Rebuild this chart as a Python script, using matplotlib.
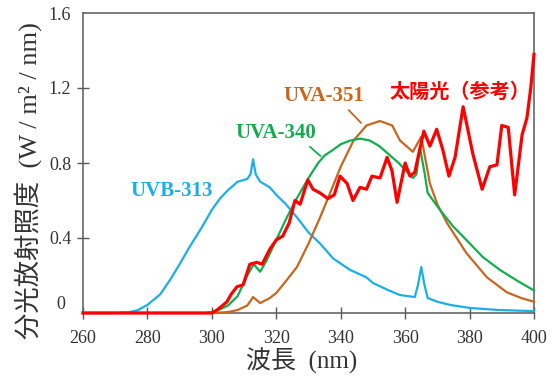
import matplotlib
matplotlib.use("Agg")
import matplotlib.pyplot as plt

FONTS = ["Liberation Serif", "Noto Sans CJK JP"]
plt.rcParams["font.family"] = FONTS

# ── spectra (wavelength nm, W/m2/nm) ─────────────────────────────────────────
uvb313_wl = [260, 270, 274, 277, 280, 284, 287, 290, 293, 297, 300, 302.5, 305,
             308, 311, 312, 312.8, 313.6, 315, 318, 320, 323, 326.4, 330, 333.6,
             337.7, 342.9, 348, 350, 355, 358.4, 363, 364, 365, 366, 367, 370,
             374, 380, 389, 400]
uvb313 = [0, 0, 0.003, 0.015, 0.043, 0.1, 0.176, 0.26, 0.35, 0.46, 0.55, 0.61,
          0.655, 0.70, 0.715, 0.74, 0.82, 0.74, 0.70, 0.67, 0.63, 0.58, 0.51,
          0.43, 0.37, 0.29, 0.23, 0.19, 0.16, 0.12, 0.096, 0.085, 0.15, 0.245,
          0.15, 0.08, 0.06, 0.043, 0.027, 0.016, 0.01]

uva340_wl = [260, 298, 300, 302, 305, 308, 311, 313, 315, 317, 320, 323, 326,
             330, 333, 335, 337.6, 340, 343, 346, 349, 352, 354, 358, 362.4,
             363.5, 364.6, 366, 367, 370.8, 375, 379, 384, 389.4, 395, 400]
uva340 = [0, 0, 0.005, 0.015, 0.04, 0.09, 0.2, 0.26, 0.22, 0.28, 0.39, 0.5,
          0.6, 0.72, 0.80, 0.84, 0.87, 0.90, 0.92, 0.93, 0.92, 0.89, 0.86, 0.80,
          0.72, 0.74, 0.88, 0.75, 0.64, 0.55, 0.46, 0.39, 0.30, 0.23, 0.17, 0.12]

uva351_wl = [260, 300, 305, 308, 311, 312.8, 315, 318, 320, 323, 326.4, 330,
             333.6, 336, 340, 344, 348, 352.2, 356, 358.4, 362.4, 365, 367.7,
             370, 373, 379, 385.4, 391.6, 396, 400]
uva351 = [0, 0, 0.005, 0.016, 0.04, 0.085, 0.053, 0.08, 0.107, 0.17, 0.245,
          0.37, 0.51, 0.61, 0.78, 0.92, 1.00, 1.024, 1.00, 0.92, 0.86, 0.94,
          0.69, 0.58, 0.48, 0.32, 0.19, 0.11, 0.08, 0.06]

sun_wl = [260, 300, 301.6, 303, 304.7, 306, 307.8, 309.7, 311.8, 314, 315.6,
          318, 320, 322, 324, 325.8, 327.4, 329.8, 331.4, 333.6, 336, 338,
          339.8, 342, 343.8, 346, 348, 349.7, 352.2, 354.4, 355.9, 357.5, 360,
          361.5, 363, 364, 365.8, 367.7, 369.8, 371.7, 373.6, 375.5, 378, 381,
          383.9, 386.3, 388.5, 390, 392, 394, 396.3, 397.8, 399, 400]
sun = [0, 0, 0.016, 0.035, 0.06, 0.1, 0.14, 0.15, 0.26, 0.27, 0.26, 0.34, 0.39,
       0.41, 0.48, 0.60, 0.58, 0.71, 0.66, 0.64, 0.61, 0.63, 0.73, 0.69, 0.60,
       0.67, 0.66, 0.73, 0.72, 0.83, 0.76, 0.59, 0.80, 0.73, 0.75, 0.83, 0.97,
       0.89, 0.98, 0.87, 0.73, 0.83, 1.10, 0.85, 0.66, 0.78, 0.79, 1.00, 0.99,
       0.63, 0.95, 1.04, 1.20, 1.38]

x_ticks = [260, 280, 300, 320, 340, 360, 380, 400]
y_ticks = [0.4, 0.8, 1.2, 1.6]
y_ticklabels = ["0.4", "0.8", "1.2", "1.6"]

BLUE = "#1AAFE6"
GREEN = "#12AE4E"
ORANGE = "#C8661E"
RED = "#FF0000"
AXIS = "#595959"
TXT = "#333333"

fig = plt.figure(figsize=(5.52, 3.76), dpi=100)
ax = fig.add_axes([83 / 552, 63 / 376, 451 / 552, 300 / 376])

ax.plot(uvb313_wl, uvb313, color=BLUE, lw=1.6, clip_on=False, zorder=3)
ax.plot(uva351_wl, uva351, color=ORANGE, lw=1.6, clip_on=False, zorder=3)
ax.plot(uva340_wl, uva340, color=GREEN, lw=1.6, clip_on=False, zorder=4)
ax.plot(sun_wl, sun, color=RED, lw=2.3, clip_on=False, zorder=5)

ax.set_xlim(260, 400)
ax.set_ylim(0, 1.6)
ax.set_xticks(x_ticks)
ax.set_yticks(y_ticks)
ax.set_yticklabels(y_ticklabels)
ax.yaxis.get_major_ticks()[-1].tick1line.set_visible(False)
ax.text(-0.04, 0.043, "0", transform=ax.get_yaxis_transform(),
        ha="right", va="center", fontsize=13, color=TXT)

for s in ax.spines.values():
    s.set_color(AXIS)
    s.set_linewidth(1.1)
ax.tick_params(axis="both", direction="inout", length=9, width=1.0,
               color=AXIS, labelsize=13, labelcolor=TXT)
ax.tick_params(axis="x", pad=7.5)
ax.tick_params(axis="y", pad=4)

# curve labels
lab = dict(fontsize=15, fontweight="bold", ha="center", va="center")
ax.text(287.6, 0.653, "UVB-313", color=BLUE, **lab)
ax.text(319.9, 0.962, "UVA-340", color=GREEN, **lab)
ax.text(334.8, 1.155, "UVA-351", color=ORANGE, **lab)
ax.text(377, 1.18, "太陽光（参考）", color=RED, fontsize=14.5,
        fontweight="bold", ha="center", va="center",
        family=["Noto Sans CJK JP"])
ax.annotate("", xy=(334.4, 0.827), xytext=(329.8, 0.896),
            arrowprops=dict(arrowstyle="-", color=GREEN, lw=1.3))
ax.annotate("", xy=(346.9, 1.003), xytext=(341.9, 1.093),
            arrowprops=dict(arrowstyle="-", color=ORANGE, lw=1.3))

fig.text(28 / 552, 1 - 181 / 376, "分光放射照度  (W / m² / nm)",
         rotation=90, ha="center", va="center", fontsize=19, color=TXT)
fig.text(302 / 552, 1 - 361 / 376, "波長  (nm)", ha="center", va="center",
         fontsize=18, color=TXT)

fig.savefig("out.png", dpi=100)
